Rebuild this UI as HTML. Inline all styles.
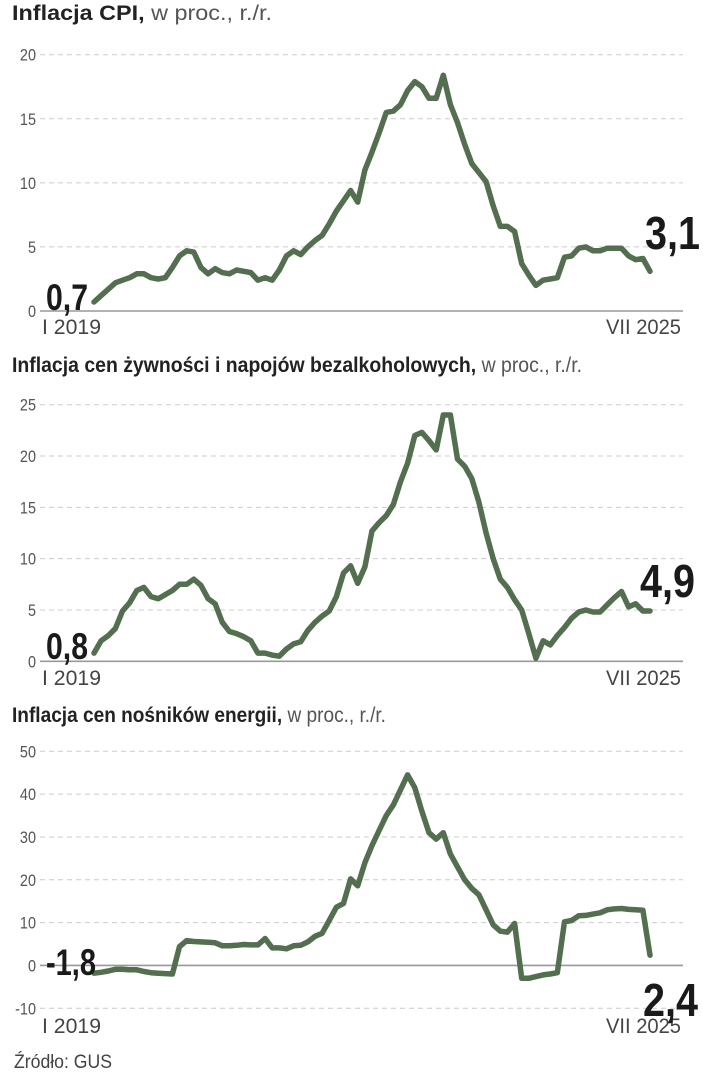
<!DOCTYPE html>
<html><head><meta charset="utf-8">
<style>
body{margin:0;background:#fff;width:703px;height:1080px;overflow:hidden;font-family:"Liberation Sans Narrow","Liberation Sans",sans-serif;}
svg{position:absolute;left:0;top:0;}
</style></head>
<body>
<svg id="c" width="703" height="1080"></svg>
<script>
const months = 79; // I 2019 .. VII 2025
const cpiValues = [0.7,1.2,1.7,2.2,2.4,2.6,2.9,2.9,2.6,2.5,2.6,3.4,
4.3,4.7,4.6,3.4,2.9,3.3,3.0,2.9,3.2,3.1,3.0,2.4,
2.6,2.4,3.2,4.3,4.7,4.4,5.0,5.5,5.9,6.8,7.8,8.6,
9.4,8.5,11.0,12.4,13.9,15.5,15.6,16.1,17.2,17.9,17.5,16.6,
16.6,18.4,16.1,14.7,13.0,11.5,10.8,10.1,8.2,6.6,6.6,6.2,
3.7,2.8,2.0,2.4,2.5,2.6,4.2,4.3,4.9,5.0,4.7,4.7,
4.9,4.9,4.9,4.3,4.0,4.1,3.1];
const foodValues = [0.8,2.0,2.5,3.2,4.9,5.7,6.9,7.2,6.3,6.1,6.5,6.9,
7.5,7.5,8.0,7.4,6.1,5.6,3.8,2.9,2.7,2.4,2.0,0.8,
0.8,0.6,0.5,1.2,1.7,1.9,3.0,3.8,4.4,4.9,6.3,8.6,
9.3,7.6,9.2,12.7,13.5,14.2,15.3,17.5,19.3,22.0,22.3,21.5,
20.6,24.0,24.0,19.7,19.0,17.8,15.5,12.5,10.0,8.0,7.2,6.0,
5.0,2.7,0.3,2.0,1.6,2.5,3.3,4.2,4.8,5.0,4.8,4.8,
5.5,6.2,6.8,5.3,5.6,4.9,4.9];
const energyValues = [-1.8,-1.6,-1.3,-0.9,-0.9,-1.0,-1.0,-1.4,-1.7,-1.8,-1.9,-2.0,
4.4,5.8,5.6,5.5,5.4,5.3,4.6,4.6,4.7,4.9,4.8,4.8,
6.3,4.1,4.1,3.9,4.6,4.7,5.5,6.8,7.5,10.5,13.6,14.5,
20.2,18.6,24.0,28.0,31.5,35.0,37.5,41.0,44.5,41.5,36.0,31.0,
29.5,31.0,26.0,23.0,20.0,18.0,16.5,13.0,9.5,8.0,7.8,9.8,
-3.0,-3.0,-2.6,-2.2,-2.0,-1.7,10.2,10.5,11.6,11.7,12.0,12.3,
13.0,13.2,13.3,13.1,13.0,12.9,2.4];
const cpiTicks = [0,5,10,15,20];
const foodTicks = [0,5,10,15,20,25];
const energyTicks = [-10,0,10,20,30,40,50];

const svg = document.getElementById('c');
const NS = 'http://www.w3.org/2000/svg';
function mk(tag, attrs, parent){const e=document.createElementNS(NS,tag);for(const k in attrs)e.setAttribute(k,attrs[k]);(parent||svg).appendChild(e);return e;}
const X0=94, X1=650;
function xs(i){return X0+(X1-X0)*i/(months-1);}

function chart(cfg){
  const g=mk('g',{});
  
  
  const ys=v=>cfg.y0+(v-cfg.v0)*(cfg.y1-cfg.y0)/(cfg.v1-cfg.v0);
  const t=mk('text',{x:12,y:cfg.titleY,'font-size':21,fill:'#222',textLength:cfg.titleW,lengthAdjust:'spacingAndGlyphs'},g);
  
  
  t.innerHTML='<tspan font-weight="bold">'+cfg.title+',</tspan><tspan fill="#555"> w proc., r./r.</tspan>';
  cfg.ticks.forEach(v=>{
    const y=ys(v);
    const l=mk('line',{x1:40,x2:683,y1:y,y2:y,stroke:v===0?'#999':'#ccc','stroke-width':v===0?1.6:1,'stroke-dasharray':v===0?'':'5,4'},g);
    
    
    const tl=mk('text',{x:36,y:y+6,'text-anchor':'end','font-size':17,fill:'#555',transform:'translate(36 0) scale(0.85 1) translate(-36 0)'},g);
    
    
    tl.textContent=v;
  });
  const a=mk('text',{x:42,y:cfg.axisLabelY,'font-size':21,fill:'#444',textLength:59,lengthAdjust:'spacingAndGlyphs'},g);
  
  
  a.textContent='I 2019';
  const b=mk('text',{x:606,y:cfg.axisLabelY,'font-size':21,fill:'#444',textLength:75,lengthAdjust:'spacingAndGlyphs'},g);
  
  
  b.textContent='VII 2025';
  const pts=cfg.data.map((v,i)=>xs(i).toFixed(1)+','+ys(v).toFixed(1)).join(' ');
  const p=mk('polyline',{points:pts,fill:'none',stroke:'#536f4f','stroke-width':5.5,'stroke-linejoin':'round','stroke-linecap':'round'},g);
  
  
  const s=mk('text',{x:cfg.sx,y:cfg.sy,'font-size':37,'font-weight':'bold',fill:'#1a1a1a',textLength:cfg.sw,lengthAdjust:'spacingAndGlyphs'},g);
  
  
  s.textContent=String(cfg.data[0]).replace('.',',');
  const e=mk('text',{x:cfg.ex,y:cfg.ey,'font-size':46,'font-weight':'bold',fill:'#1a1a1a',textLength:55,lengthAdjust:'spacingAndGlyphs'},g);
  
  
  e.textContent=String(cfg.data[months-1]).replace('.',',');
}
chart({name:'cpi-chart',title:'Inflacja CPI',titleW:260,titleY:20,data:cpiValues,ticks:cpiTicks,v0:0,v1:20,y0:311,y1:54.7,axisLabelY:334,sx:46,sy:310,sw:42,ex:645,ey:249});
chart({name:'food-chart',title:'Inflacja cen żywności i napojów bezalkoholowych',titleW:570,titleY:372,data:foodValues,ticks:foodTicks,v0:0,v1:25,y0:661.3,y1:404.7,axisLabelY:685,sx:46,sy:659,sw:42,ex:640,ey:597});
chart({name:'energy-chart',title:'Inflacja cen nośników energii',titleW:374,titleY:722,data:energyValues,ticks:energyTicks,v0:-10,v1:50,y0:1008.3,y1:751.3,axisLabelY:1033,sx:46,sy:975,sw:50,ex:643,ey:1016});
const src=mk('text',{x:14,y:1068,'font-size':19,fill:'#444',textLength:98,lengthAdjust:'spacingAndGlyphs'});


src.textContent='Źródło: GUS';
</script>
</body></html>
